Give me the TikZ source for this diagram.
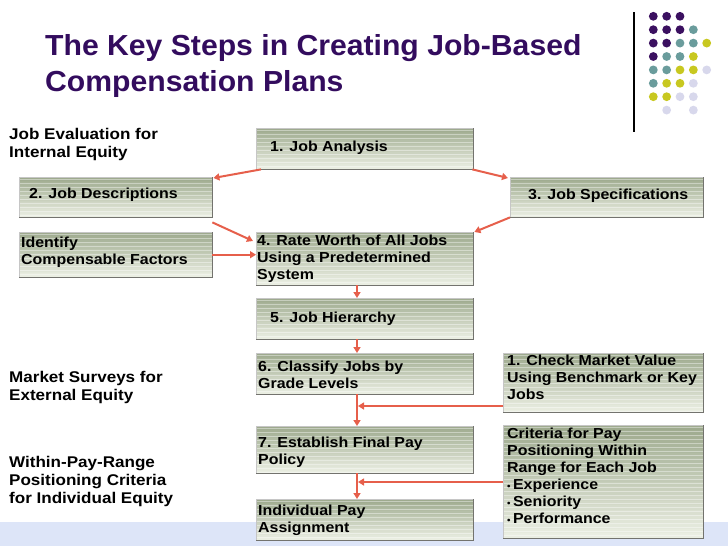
\documentclass[tikz,border=0pt]{standalone}
\usepackage{fontspec}
\setmainfont{Liberation Sans}[FakeStretch=1.1]
\newfontfamily\titlefont{Liberation Sans}[FakeStretch=1.04]
\usetikzlibrary{arrows.meta,calc}
\definecolor{titlepurple}{RGB}{51,12,94}
\definecolor{arrowred}{RGB}{230,95,75}
\definecolor{boxtop}{RGB}{158,170,142}
\definecolor{boxbot}{RGB}{234,238,226}
\definecolor{band}{RGB}{221,229,248}
\definecolor{dpurple}{RGB}{59,16,96}
\definecolor{dteal}{RGB}{106,156,156}
\definecolor{dyellow}{RGB}{200,200,32}
\definecolor{dlav}{RGB}{216,216,236}
\definecolor{edgegray}{RGB}{115,115,110}
\begin{document}
\begin{tikzpicture}[x=1pt,y=-1pt,
  box/.style={draw=gray!45, line width=0.4pt, inner sep=0pt, anchor=north west,
    path picture={
      \foreach \k [evaluate=\k as \p using {100-\k*100/23}] in {0,...,23}
        \fill[boxtop!\p!boxbot]
          ($(path picture bounding box.north west)!{\k/24}!(path picture bounding box.south west)$)
          rectangle
          ($(path picture bounding box.north east)!{(\k+1.1)/24}!(path picture bounding box.south east)$);
      \foreach \k in {2,6,...,122}
        \draw[white,opacity=0.4,line width=0.8pt]
          ([yshift=-\k pt]path picture bounding box.north west) --
          ([yshift=-\k pt]path picture bounding box.north east);}},
  btxt/.style={font=\bfseries\fontsize{14.5}{17}\selectfont, align=left, inner sep=0pt, anchor=base west},
  ltxt/.style={font=\bfseries\fontsize{15.5}{18}\selectfont, align=left, inner sep=0pt, anchor=base west},
  arr/.style={draw=arrowred, line width=2pt, -{Triangle[length=6pt,width=7pt]}},
  sedge/.style={draw=edgegray, line width=1.2pt}
]
\useasboundingbox (0,0) rectangle (728,546);
% bottom band
\fill[band] (0,522) rectangle (728,546);
% title (base anchor = baseline of last line)
\node[anchor=base west, align=left, inner sep=0pt, text=titlepurple,
  font=\titlefont\bfseries\fontsize{29}{36}\selectfont] (title) at (45,91)
  {The Key Steps in Creating Job-Based\\Compensation Plans};
% vertical rule and dots
\draw[black, line width=1.2pt] (634,12) -- (634,132);
\foreach \c/\r/\col in {0/0/dpurple,1/0/dpurple,2/0/dpurple,
  0/1/dpurple,1/1/dpurple,2/1/dpurple,3/1/dteal,
  0/2/dpurple,1/2/dpurple,2/2/dteal,3/2/dteal,4/2/dyellow,
  0/3/dpurple,1/3/dteal,2/3/dteal,3/3/dyellow,
  0/4/dteal,1/4/dteal,2/4/dyellow,3/4/dyellow,4/4/dlav,
  0/5/dteal,1/5/dyellow,2/5/dyellow,3/5/dlav,
  0/6/dyellow,1/6/dyellow,2/6/dlav,3/6/dlav,
  1/7/dlav,3/7/dlav}
  \fill[\col] (653.3+13.35*\c,16.3+13.4*\r) circle (4.4);
% boxes
\node[box, minimum width=217pt, minimum height=41pt] (b1) at (256,128) {};
\node[box, minimum width=193pt, minimum height=40pt] (b2) at (19,177) {};
\node[box, minimum width=193pt, minimum height=40pt] (b3) at (510,177) {};
\node[box, minimum width=193pt, minimum height=45pt] (bi) at (19,232) {};
\node[box, minimum width=217pt, minimum height=53pt] (b4) at (256,232) {};
\node[box, minimum width=217pt, minimum height=41pt] (b5) at (256,298) {};
\node[box, minimum width=217pt, minimum height=41pt] (b6) at (256,353) {};
\node[box, minimum width=217pt, minimum height=47pt] (b7) at (256,426) {};
\node[box, minimum width=217pt, minimum height=41pt] (b8) at (256,499) {};
\node[box, minimum width=200pt, minimum height=59pt] (m1) at (503,353) {};
\node[box, minimum width=200pt, minimum height=113pt] (m2) at (503,425) {};
\foreach \n in {b1,b2,b3,bi,b4,b5,b6,b7,b8,m1,m2}
  \draw[sedge] (\n.north east) -- (\n.south east) -- (\n.south west);
% box texts (positions are the baseline of the last line)
\node[btxt] (t1) at (270,151) {1. Job Analysis};
\node[btxt] (t2) at (29,198) {2. Job Descriptions};
\node[btxt] (t3) at (528,199) {3. Job Specifications};
\node[btxt] (ti) at (21,264) {Identify\\Compensable Factors};
\node[btxt] (t4) at (257,279) {4. Rate Worth of All Jobs\\Using a Predetermined\\System};
\node[btxt] (t5) at (270,322) {5. Job Hierarchy};
\node[btxt] (t6) at (258,388) {6. Classify Jobs by\\Grade Levels};
\node[btxt] (t7) at (258,464) {7. Establish Final Pay\\Policy};
\node[btxt] (t8) at (258,532) {Individual Pay\\Assignment};
\node[btxt] (tm1) at (507,399) {1. Check Market Value\\Using Benchmark or Key\\Jobs};
\node[btxt] (tm2) at (507,523) {Criteria for Pay\\Positioning Within\\Range for Each Job\\
  {\fontsize{9}{9}\selectfont\textbullet}\,Experience\\
  {\fontsize{9}{9}\selectfont\textbullet}\,Seniority\\
  {\fontsize{9}{9}\selectfont\textbullet}\,Performance};
% left labels
\node[ltxt] (l1) at (9,157) {Job Evaluation for\\Internal Equity};
\node[ltxt] (l2) at (9,400) {Market Surveys for\\External Equity};
\node[ltxt] (l3) at (9,503) {Within-Pay-Range\\Positioning Criteria\\for Individual Equity};
% connectors
\coordinate (sp) at (357,0);
\coordinate (j1) at (358,406);
\coordinate (j2) at (358,482);
\draw[arr] ([xshift=5pt]b1.south west) -- ([xshift=1pt,yshift=-1pt]b2.north east);
\draw[arr] ([xshift=-1pt]b1.south east) -- ([xshift=-2pt,yshift=-1pt]b3.north west);
\draw[arr] ([yshift=-5pt]b2.south east) -- ([xshift=-3pt,yshift=-9pt]b4.north west);
\draw[arr] (b3.south west) -- ([xshift=1pt]b4.north east);
\draw[arr] (bi.east) -- (bi.east -| b4.west);
\draw[arr] (b4.south -| sp) -- (b5.north -| sp);
\draw[arr] (b5.south -| sp) -- (b6.north -| sp);
\draw[arr] (b6.south -| sp) -- (b7.north -| sp);
\draw[arr] (b7.south -| sp) -- (b8.north -| sp);
\draw[arr] (m1.west |- j1) -- (j1);
\draw[arr] (m2.west |- j2) -- (j2);
\end{tikzpicture}
\end{document}
